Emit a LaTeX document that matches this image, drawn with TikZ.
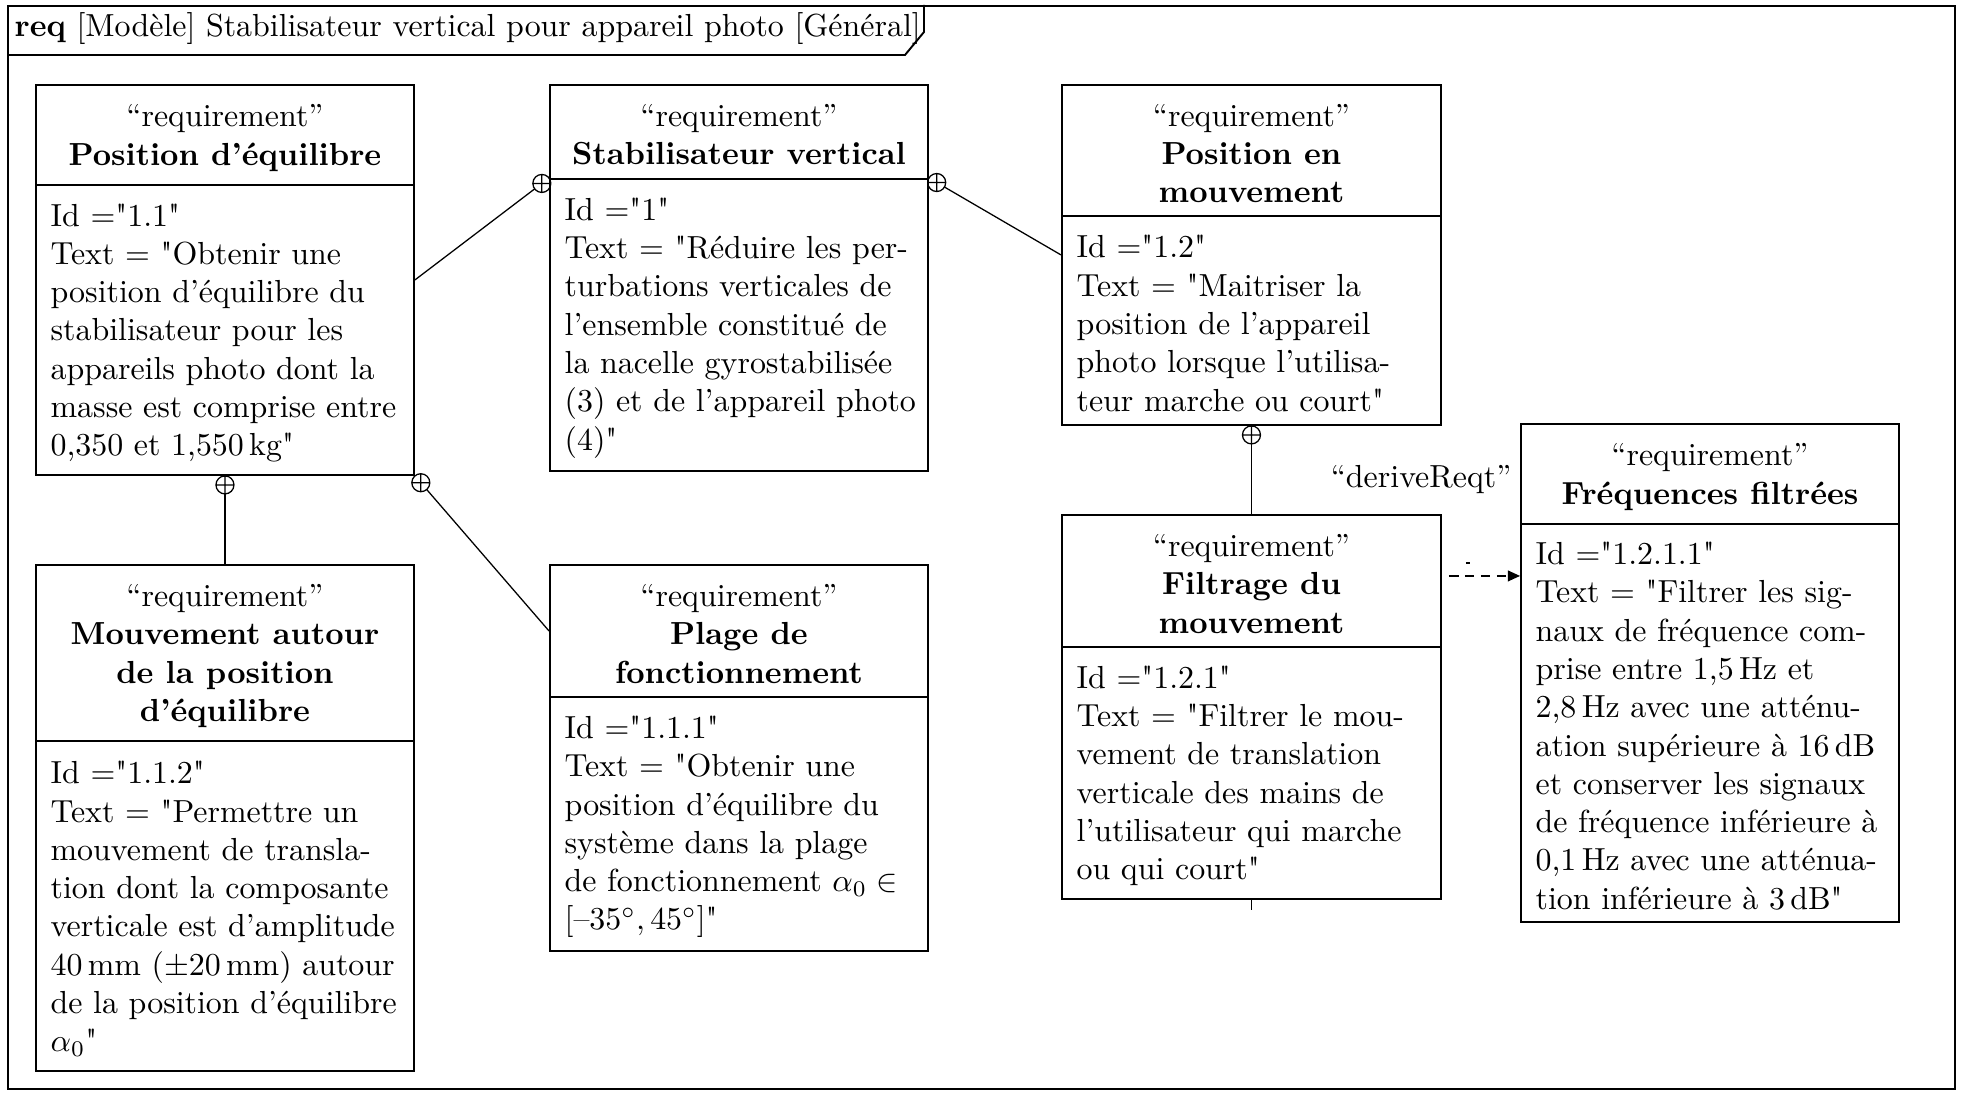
\documentclass[tikz,border=0pt]{standalone}
\usetikzlibrary{calc,arrows.meta}
\font\dqfont="[lmroman10-regular.otf]" at 10pt
\newcommand\dq{{\dqfont\char34}}
\def\u{0.3133pt}
\tikzset{
  x=0.3133pt, y=-0.3133pt,
  box/.style={draw, line width=0.6pt, inner sep=0pt, anchor=north west},
  hdr/.style={inner sep=0pt, align=center},
  txt/.style={inner sep=0pt, anchor=west, align=left},
  conn/.style={line width=0.4pt},
  derive/.style={line width=0.4pt, dash pattern=on 3pt off 2pt, -{Triangle[length=3.8pt,width=3.4pt]}},
}
% name, L, R, T, S, B, header, body
\newcommand\reqbox[8]{%
  \node[box, minimum width={(#3-#2)*\u}, minimum height={(#5-#4)*\u}] (#1h) at (#2,#4) {};
  \node[box, minimum width={(#3-#2)*\u}, minimum height={(#6-#5)*\u}] (#1b) at (#2,#5) {};
  \node[hdr] (#1n) at ($(#1h.center)+(0,3)$) {#7};
  \node[txt] (#1t) at ($(#1b.west)+(15,3)$) {#8};
}
% containment: parent anchor, child anchor
\newcommand\contain[2]{%
  \draw[conn] ($(#1)!5.64pt!(#2)$) -- (#2);
  \coordinate (cc) at ($(#1)!2.82pt!(#2)$);
  \draw[conn] (cc) circle (2.82pt)
    ($(cc)+(0,-9)$) -- ($(cc)+(0,9)$)
    ($(cc)+(-9,0)$) -- ($(cc)+(9,0)$);
}
\begin{document}
\begin{tikzpicture}
\useasboundingbox (0,0) rectangle (1961,1095);
% frame
\node[draw, line width=0.6pt, inner sep=0pt, anchor=north west,
      minimum width={(1954-7)*\u}, minimum height={(1088-5)*\u}] (frame) at (7,5) {};
\draw[line width=0.6pt] (frame.north west |- 0,55) -- (905,55) -- (924,32) -- (924,5);
\node[anchor=base west, inner sep=0pt] (title) at (14,37)
  {\textbf{req} [Modèle] Stabilisateur vertical pour appareil photo [Général]};

\reqbox{b1}{35}{413}{84}{184}{474}
  {“requirement”\\\textbf{Position d’équilibre}}
  {Id =\dq1.1\dq\\
   Text = \dq Obtenir une\\
   position d’équilibre du\\
   stabilisateur pour les\\
   appareils photo dont la\\
   masse est comprise entre\\
   0,350 et 1,550\,kg\dq}

\reqbox{b2}{549}{927}{84}{178}{470}
  {“requirement”\\\textbf{Stabilisateur vertical}}
  {Id =\dq1\dq\\
   Text = \dq Réduire les per-\\
   turbations verticales de\\
   l’ensemble constitué de\\
   la nacelle gyrostabilisée\\
   (3) et de l’appareil photo\\
   (4)\dq}

\reqbox{b3}{1061}{1440}{84}{215}{424}
  {“requirement”\\\textbf{Position en}\\\textbf{mouvement}}
  {Id =\dq1.2\dq\\
   Text = \dq Maitriser la\\
   position de l’appareil\\
   photo lorsque l’utilisa-\\
   teur marche ou court\dq}

\reqbox{b4}{35}{413}{564}{740}{1070}
  {“requirement”\\\textbf{Mouvement autour}\\\textbf{de la position}\\\textbf{d’équilibre}}
  {Id =\dq1.1.2\dq\\
   Text = \dq Permettre un\\
   mouvement de transla-\\
   tion dont la composante\\
   verticale est d’amplitude\\
   40\,mm ($\pm$20\,mm) autour\\
   de la position d’équilibre\\
   $\alpha_0$\dq}

\reqbox{b5}{549}{927}{564}{696}{950}
  {“requirement”\\\textbf{Plage de}\\\textbf{fonctionnement}}
  {Id =\dq1.1.1\dq\\
   Text = \dq Obtenir une\\
   position d’équilibre du\\
   système dans la plage\\
   de fonctionnement $\alpha_0\in$\\
   $[\mbox{–}35^\circ,45^\circ]$\dq}

\reqbox{b6}{1061}{1440}{514}{646}{898}
  {“requirement”\\\textbf{Filtrage du}\\\textbf{mouvement}}
  {Id =\dq1.2.1\dq\\
   Text = \dq Filtrer le mou-\\
   vement de translation\\
   verticale des mains de\\
   l’utilisateur qui marche\\
   ou qui court\dq}

\reqbox{b7}{1520}{1898}{423}{523}{921}
  {“requirement”\\\textbf{Fréquences filtrées}}
  {Id =\dq1.2.1.1\dq\\
   Text = \dq Filtrer les sig-\\
   naux de fréquence com-\\
   prise entre 1,5\,Hz et\\
   2,8\,Hz avec une atténu-\\
   ation supérieure à 16\,dB\\
   et conserver les signaux\\
   de fréquence inférieure à\\
   0,1\,Hz avec une atténua-\\
   tion inférieure à 3\,dB\dq}

% anchors for children
\coordinate (b1e) at ($(b1h.north east)!0.5!(b1b.south east)$);
\coordinate (b3w) at ($(b3h.north west)!0.5!(b3b.south west)$);

% containment links
\contain{b2b.north west}{b1e}
\contain{b2b.north east}{b3w}
\contain{b1b.south}{b4h.north}
\contain{b1b.south east}{b5h.west}
\contain{b3b.south}{b6h.north}

% deriveReqt
\draw[derive] ($(b6h.east)+(7,-5)$) -- ($(b7b.west |- b6h.east)+(0,-5)$);
\draw[conn] ($(b6h.east)+(24,-18)$) -- ++(4,0);
\node[anchor=base east, inner sep=0pt] (lbl) at (1512,488) {“deriveReqt”};
\draw[conn] (b6b.south) -- ++(0,10);
\end{tikzpicture}
\end{document}
